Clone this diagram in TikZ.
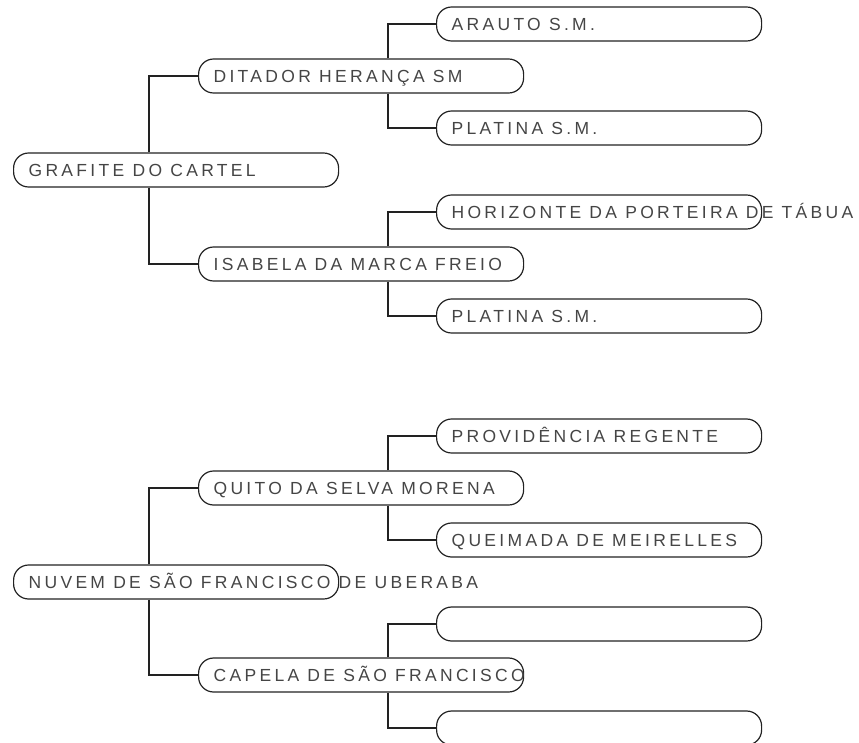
\documentclass[tikz,border=0pt]{standalone}
\usepackage{fontspec}
\usepackage{tikz}
\newfontfamily\mapfont[LetterSpace=19]{Liberation Sans}
\definecolor{inkline}{HTML}{222222}
\definecolor{inktext}{HTML}{454545}
\newcommand{\boxtext}[1]{\makebox[295pt][l]{#1}}

\begin{document}
\begin{tikzpicture}[x=1pt,y=-1pt]
    \tikzstyle{every node}+=[inner ysep=0pt]
    \tikzstyle{topic}=[draw=inkline, line width=1.2pt, rounded corners=15pt,
        anchor=west, minimum width=325pt, minimum height=34pt, inner xsep=15pt,
        text height=12.5pt, text depth=0pt, text=inktext,
        font=\mapfont\fontsize{17.5}{20}\selectfont]
    \tikzstyle{branch}=[draw=inkline, line width=1.2pt]
    \useasboundingbox (0,0) rectangle (859,742);
    % first tree
    \node [topic] (grafite) at (13,170) {\boxtext{GRAFITE DO CARTEL}};
    \node [topic] (ditador) at (198,76) {\boxtext{DITADOR HERANÇA SM}};
    \node [topic] (arauto) at (436,24) {\boxtext{ARAUTO S.M.}};
    \node [topic] (platinaA) at (436,128) {\boxtext{PLATINA S.M.}};
    \node [topic] (isabela) at (198,264) {\boxtext{ISABELA DA MARCA FREIO}};
    \node [topic] (horizonte) at (436,212) {\boxtext{HORIZONTE DA PORTEIRA DE TÁBUA}};
    \node [topic] (platinaB) at (436,316) {\boxtext{PLATINA S.M.}};
    \draw [branch] ([xshift=136pt]grafite.north west) |- (ditador.west);
    \draw [branch] ([xshift=136pt]grafite.south west) |- (isabela.west);
    \draw [branch] ([xshift=190pt]ditador.north west) |- (arauto.west);
    \draw [branch] ([xshift=190pt]ditador.south west) |- (platinaA.west);
    \draw [branch] ([xshift=190pt]isabela.north west) |- (horizonte.west);
    \draw [branch] ([xshift=190pt]isabela.south west) |- (platinaB.west);
    % second tree
    \node [topic] (nuvem) at (13,582) {\boxtext{NUVEM DE SÃO FRANCISCO DE UBERABA}};
    \node [topic] (quito) at (198,488) {\boxtext{QUITO DA SELVA MORENA}};
    \node [topic] (providencia) at (436,436) {\boxtext{PROVIDÊNCIA REGENTE}};
    \node [topic] (queimada) at (436,540) {\boxtext{QUEIMADA DE MEIRELLES}};
    \node [topic] (capela) at (198,675) {\boxtext{CAPELA DE SÃO FRANCISCO}};
    \node [topic] (vazioA) at (436,624) {\boxtext{}};
    \node [topic] (vazioB) at (436,728) {\boxtext{}};
    \draw [branch] ([xshift=136pt]nuvem.north west) |- (quito.west);
    \draw [branch] ([xshift=136pt]nuvem.south west) |- (capela.west);
    \draw [branch] ([xshift=190pt]quito.north west) |- (providencia.west);
    \draw [branch] ([xshift=190pt]quito.south west) |- (queimada.west);
    \draw [branch] ([xshift=190pt]capela.north west) |- (vazioA.west);
    \draw [branch] ([xshift=190pt]capela.south west) |- (vazioB.west);
\end{tikzpicture}
\end{document}
